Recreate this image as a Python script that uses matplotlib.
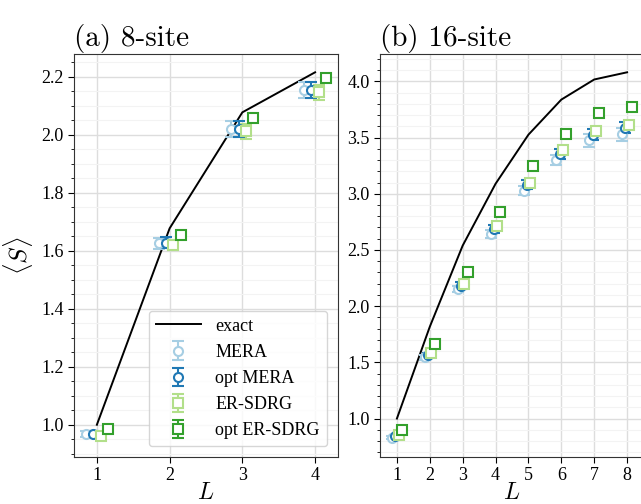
import matplotlib
matplotlib.use("Agg")
import matplotlib.pyplot as plt
from matplotlib.ticker import AutoMinorLocator

plt.rcParams["font.family"] = ["Liberation Serif", "DejaVu Serif"]
plt.rcParams["mathtext.fontset"] = "cm"
plt.rcParams["font.size"] = 13

# colours of the four series (Paired palette)
C_MERA, C_OPT_MERA = "#a6cee3", "#1f78b4"
C_ER, C_OPT_ER = "#b2df8a", "#33a02c"

# ---- (a) 8-site ----
L8 = [1, 2, 3, 4]
exact8 = [1.000, 1.677, 2.077, 2.215]
mera8 = [0.968, 1.625, 2.020, 2.154]
mera8_err = [0.012, 0.020, 0.028, 0.028]
optmera8 = [0.968, 1.628, 2.020, 2.154]
optmera8_err = [0.012, 0.020, 0.028, 0.026]
er8 = [0.962, 1.620, 2.011, 2.146]
er8_err = [0.010, 0.018, 0.026, 0.026]
opter8 = [0.985, 1.655, 2.056, 2.194]
opter8_err = [0.012, 0.013, 0.014, 0.014]

# ---- (b) 16-site ----
L16 = [1, 2, 3, 4, 5, 6, 7, 8]
exact16 = [1.000, 1.817, 2.539, 3.089, 3.526, 3.838, 4.017, 4.081]
mera16 = [0.831, 1.544, 2.153, 2.643, 3.029, 3.297, 3.475, 3.529]
mera16_err = [0.010, 0.020, 0.030, 0.035, 0.040, 0.045, 0.055, 0.060]
optmera16 = [0.846, 1.565, 2.183, 2.688, 3.080, 3.357, 3.526, 3.588]
optmera16_err = [0.010, 0.018, 0.028, 0.035, 0.040, 0.045, 0.050, 0.050]
er16 = [0.852, 1.583, 2.198, 2.709, 3.098, 3.386, 3.559, 3.609]
er16_err = [0.010, 0.012, 0.014, 0.015, 0.015, 0.015, 0.015, 0.015]
opter16 = [0.896, 1.663, 2.307, 2.836, 3.246, 3.535, 3.718, 3.772]
opter16_err = [0.015, 0.015, 0.015, 0.015, 0.015, 0.015, 0.015, 0.015]


def draw(ax, L, exact, series, title):
    ax.plot(L, exact, color="black", lw=1.4, label="exact", zorder=2)
    offsets = [-0.15, -0.05, 0.05, 0.15]
    for (vals, errs, color, marker, label), dx in zip(series, offsets):
        ax.errorbar([x + dx for x in L], vals, yerr=errs, fmt=marker, color=color,
                    mfc="white", mec=color, ms=6.5, mew=1.5, elinewidth=1.5,
                    capsize=4, capthick=1.5, label=label, zorder=3)
    ax.set_xticks(L)
    ax.yaxis.set_minor_locator(AutoMinorLocator())
    ax.grid(True, which="major", color="#dddddd", lw=1.0)
    ax.grid(True, which="minor", axis="y", color="#f3f3f3", lw=0.8)
    ax.set_axisbelow(True)
    ax.tick_params(axis="both", which="major", labelsize=13, length=4)
    ax.tick_params(axis="y", which="minor", length=2)
    for sp in ax.spines.values():
        sp.set_color("#333333")
    ax.set_xlabel(r"$L$", fontsize=17, labelpad=-1)
    ax.set_title(title, loc="left", fontsize=21, family="cmr10", pad=6)


fig = plt.figure(figsize=(6.41, 5.04), dpi=100)
ax1 = fig.add_axes([0.1154, 0.0933, 0.4119, 0.7996])
ax2 = fig.add_axes([0.5928, 0.0933, 0.4119, 0.7996])

draw(ax1, L8, exact8, [
    (mera8, mera8_err, C_MERA, "o", "MERA"),
    (optmera8, optmera8_err, C_OPT_MERA, "o", "opt MERA"),
    (er8, er8_err, C_ER, "s", "ER-SDRG"),
    (opter8, opter8_err, C_OPT_ER, "s", "opt ER-SDRG"),
], "(a) 8-site")
draw(ax2, L16, exact16, [
    (mera16, mera16_err, C_MERA, "o", "MERA"),
    (optmera16, optmera16_err, C_OPT_MERA, "o", "opt MERA"),
    (er16, er16_err, C_ER, "s", "ER-SDRG"),
    (opter16, opter16_err, C_OPT_ER, "s", "opt ER-SDRG"),
], "(b) 16-site")

ax1.set_ylabel(r"$\langle S\rangle$", fontsize=18)
ax1.legend(loc="lower right", fontsize=13, handlelength=2.5, framealpha=0.8,
           edgecolor="#cccccc", borderaxespad=0.6)

fig.savefig("out.png", dpi=100)
